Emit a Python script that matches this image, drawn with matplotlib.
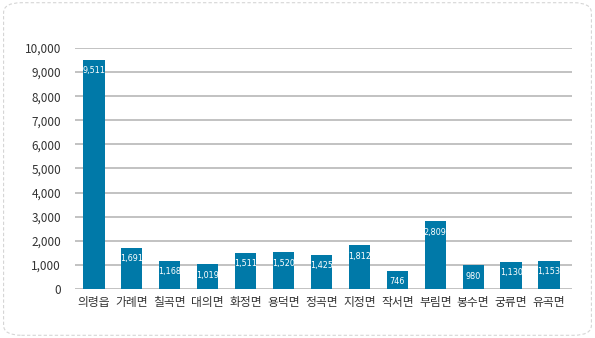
import matplotlib
matplotlib.use("Agg")
import matplotlib.pyplot as plt
from matplotlib.patches import FancyBboxPatch
from matplotlib import font_manager

plt.rcParams['font.family'] = ['Noto Sans CJK KR', 'DejaVu Sans']

categories = ['의령읍', '가례면', '칠곡면', '대의면', '화정면', '용덕면', '정곡면',
              '지정면', '작서면', '부림면', '봉수면', '궁류면', '유곡면']
values = [9511, 1691, 1168, 1019, 1511, 1520, 1425, 1812, 746, 2809, 980, 1130, 1153]
yticks = [0, 1000, 2000, 3000, 4000, 5000, 6000, 7000, 8000, 9000, 10000]

has_cond = any(f.name == 'DejaVu Sans' and f.stretch == 'condensed'
               for f in font_manager.fontManager.ttflist)
val_size = 6.5 if has_cond else 6.0

fig = plt.figure(figsize=(5.95, 3.38), dpi=100)
border = FancyBboxPatch((0.006, 0.008), 0.988, 0.984, boxstyle="round,pad=0,rounding_size=0.03",
                        transform=fig.transFigure, fill=False, edgecolor='#d5d5d5',
                        linestyle=(0, (3, 2)), linewidth=0.8)
fig.patches.append(border)

ax = fig.add_axes([0.126, 0.145, 0.835, 0.713])
x = list(range(len(categories)))
ax.bar(x, values, width=0.56, color='#0079a8', zorder=3)
for xi, v in zip(x, values):
    ax.annotate(f'{v:,}', (xi, v), xytext=(0, -4.5), textcoords='offset points',
                ha='center', va='top', color='white', fontsize=val_size,
                family=['DejaVu Sans'], fontstretch='condensed', zorder=4)

ax.set_xlim(-0.5, 12.6)
ax.set_ylim(0, 10000)
ax.set_yticks(yticks)
ax.set_yticklabels([f'{t:,}' for t in yticks])
ax.set_xticks(x)
ax.set_xticklabels(categories)
ax.grid(axis='y', color='#bdbdbd', linewidth=1.3, zorder=0)
for s in ax.spines.values():
    s.set_visible(False)
ax.tick_params(axis='both', length=0, labelsize=8.5, colors='#333333')
ax.tick_params(axis='y', pad=10)
ax.tick_params(axis='x', pad=5)

fig.savefig('out.png', dpi=100)
